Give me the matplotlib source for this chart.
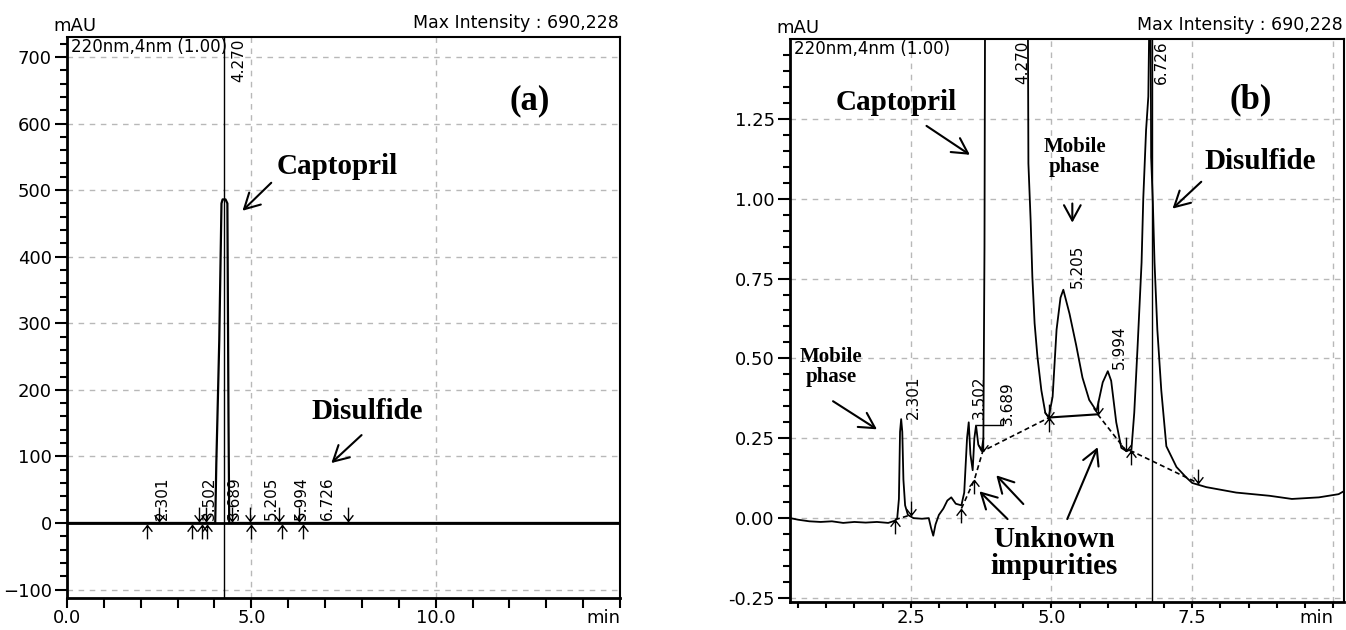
import matplotlib
matplotlib.use("Agg")
import matplotlib.pyplot as plt
from matplotlib.path import Path

plt.rcParams['font.family'] = ['DejaVu Sans']

# ---- panel (a): full scale chromatogram ----
time_a = [0, 4.02, 4.05, 4.08, 4.13, 4.19, 4.22, 4.30, 4.35, 4.38, 4.40, 15]
signal_a = [0, 0, 90, 158, 275, 480, 486, 486, 480, 158, 0, 0]
peak_times = ["2.301", "3.502", "3.689", "4.270", "5.205", "5.994", "6.726"]
label_x_a = [2.58, 3.86, 4.54, 4.67, 5.54, 6.35, 7.07]
starts_a = [2.18, 3.40, 3.67, 3.80, 5.00, 5.84, 6.39]
ends_a = [2.50, 3.59, 3.78, 4.48, 4.97, 5.76, 6.30, 7.61]
cursor_a = 4.27

# ---- panel (b): zoomed chromatogram ----
time_b = [0.36, 0.5, 0.7, 0.9, 1.1, 1.3, 1.5, 1.7, 1.9, 2.1, 2.22,
          2.26, 2.29, 2.31, 2.33, 2.35, 2.37, 2.40, 2.45, 2.55, 2.7, 2.82,
          2.86, 2.90, 2.94, 3.00, 3.08, 3.15, 3.22, 3.30, 3.40, 3.45, 3.50,
          3.53, 3.56, 3.60, 3.63, 3.66, 3.70, 3.76, 3.79, 3.81, 3.82,
          4.58, 4.59, 4.63, 4.66, 4.70, 4.75, 4.82, 4.89, 4.95, 5.02, 5.09,
          5.16, 5.21, 5.32, 5.44, 5.55, 5.67, 5.80, 5.91, 6.00, 6.06, 6.15,
          6.24, 6.33, 6.42, 6.47, 6.53, 6.60, 6.63, 6.68, 6.72, 6.74, 6.76,
          6.77, 6.80, 6.83, 6.88, 6.95, 7.04, 7.22, 7.39, 7.50, 7.75, 8.28,
          8.87, 9.27, 9.75, 10.1, 10.2]
signal_b = [0.0, -0.005, -0.01, -0.012, -0.01, -0.015, -0.012, -0.014, -0.012, -0.015, -0.008,
            0.0, 0.06, 0.27, 0.31, 0.27, 0.12, 0.04, 0.01, 0.0, -0.002, 0.0,
            -0.03, -0.055, -0.02, 0.01, 0.03, 0.055, 0.065, 0.045, 0.04, 0.08, 0.25,
            0.30, 0.20, 0.15, 0.25, 0.29, 0.23, 0.21, 0.25, 0.85, 1.6,
            1.6, 1.11, 0.93, 0.756, 0.61, 0.506, 0.40, 0.33, 0.315, 0.38, 0.59,
            0.69, 0.715, 0.64, 0.54, 0.44, 0.37, 0.335, 0.425, 0.46, 0.43, 0.30,
            0.22, 0.21, 0.215, 0.33, 0.54, 0.80, 1.0, 1.215, 1.32, 1.6, 1.6,
            1.13, 0.99, 0.80, 0.59, 0.40, 0.225, 0.16, 0.128, 0.11, 0.097, 0.08,
            0.07, 0.06, 0.065, 0.075, 0.085]
label_x_b = [2.54, 3.72, 4.22, 4.49, 5.46, 6.21, 6.95]
label_y_b = [0.31, 0.31, 0.29, None, 0.72, 0.466, None]
starts_b_t = [2.22, 3.40, 3.63, 4.96, 6.42]
starts_b_v = [-0.005, 0.03, 0.12, 0.315, 0.21]
ends_b_t = [2.50, 3.78, 4.96, 5.82, 6.33, 7.60]
ends_b_v = [0.01, 0.21, 0.315, 0.325, 0.21, 0.11]
base_b_t = [[2.22, 2.50], [3.40, 3.63, 3.78, 4.96], [5.82, 6.33, 6.42, 7.60]]
base_b_v = [[-0.005, 0.01], [0.03, 0.12, 0.21, 0.315], [0.325, 0.21, 0.21, 0.11]]
solid_b_t = [4.96, 5.82]
solid_b_v = [0.315, 0.325]
cursor_b = 6.79

up = Path([(0, 0), (0, -1), (-0.35, -0.45), (0, 0), (0.35, -0.45)],
          [Path.MOVETO, Path.LINETO, Path.MOVETO, Path.LINETO, Path.LINETO])
down = Path([(0, 0), (0, 1), (-0.35, 0.45), (0, 0), (0.35, 0.45)],
            [Path.MOVETO, Path.LINETO, Path.MOVETO, Path.LINETO, Path.LINETO])

serif = dict(family='Liberation Serif', weight='bold', color='black')
arrow = dict(arrowstyle='->,head_length=0.55,head_width=0.3', lw=1.5,
             color='black', mutation_scale=20, shrinkA=0, shrinkB=0)

fig = plt.figure(figsize=(13.46, 6.30), dpi=100)
ax1 = fig.add_axes([0.0498, 0.0508, 0.4108, 0.8905])
ax2 = fig.add_axes([0.5869, 0.0445, 0.4116, 0.8936])


def style(ax, xlen):
    for s in ax.spines.values():
        s.set_linewidth(1.5)
    ax.spines['left'].set_linewidth(2)
    ax.spines['bottom'].set_linewidth(2)
    ax.grid(True, which='major', color='#b8b8b8', ls=(0, (4, 4)), lw=1)
    ax.tick_params(which='major', direction='out', length=9, width=1.5,
                   labelsize=13, colors='black', pad=2)
    ax.tick_params(which='minor', direction='out', length=5, width=1.5)
    ax.tick_params(axis='x', which='both', length=xlen, pad=1)
    ax.set_axisbelow(True)
    ax.get_xticklabels()[-1].set_ha('right')
    ax.text(-0.025, 1.004, 'mAU', transform=ax.transAxes, fontsize=13,
            ha='left', va='bottom')
    ax.text(0.997, 1.008, 'Max Intensity : 690,228', transform=ax.transAxes,
            fontsize=12.5, ha='right', va='bottom')
    ax.text(0.008, 0.998, '220nm,4nm (1.00)', transform=ax.transAxes,
            fontsize=12, ha='left', va='top')


# panel (a)
ax1.plot(time_a, signal_a, color='black', lw=1.6)
ax1.axhline(0, color='black', lw=2)
ax1.axvline(cursor_a, color='black', lw=1)
ax1.plot(starts_a, [-3] * len(starts_a), ls='none', marker=up, ms=20,
         mec='black', mfc='none', mew=1)
ax1.plot(ends_a, [3] * len(ends_a), ls='none', marker=down, ms=20,
         mec='black', mfc='none', mew=1)
for lab, x in zip(peak_times, label_x_a):
    if lab == "4.270":
        ax1.text(x, 728, lab, rotation=90, fontsize=11, ha='center', va='top')
    else:
        ax1.text(x, 4, lab, rotation=90, fontsize=11, ha='center', va='bottom')
ax1.set_xlim(0, 15)
ax1.set_ylim(-112.7, 730)
ax1.set_xticks([0, 5, 10, 15])
ax1.set_xticklabels(['0.0', '5.0', '10.0', 'min'])
ax1.set_xticks(range(0, 16), minor=True)
ax1.set_yticks(range(-100, 701, 100))
ax1.set_yticks(range(-100, 721, 20), minor=True)
style(ax1, 7)
ax1.text(5.68, 535, 'Captopril', fontsize=21, ha='left', va='center', **serif)
ax1.annotate('', xy=(4.76, 469), xytext=(5.54, 511), arrowprops=arrow)
ax1.text(8.13, 167, 'Disulfide', fontsize=21, ha='center', va='center', **serif)
ax1.annotate('', xy=(7.17, 90), xytext=(7.99, 132), arrowprops=arrow)
ax1.text(12.55, 634, '(a)', fontsize=25, ha='center', va='center', **serif)

# panel (b)
ax2.plot(time_b, signal_b, color='black', lw=1.3)
ax2.axvline(cursor_b, color='black', lw=1)
for t, v in zip(base_b_t, base_b_v):
    ax2.plot(t, v, color='black', lw=1.2, ls=(0, (3, 2)))
ax2.plot(solid_b_t, solid_b_v, color='black', lw=1.5)
ax2.plot([3.67, 4.13, 4.13], [0.29, 0.29, 0.315], color='black', lw=1)
ax2.plot(starts_b_t, starts_b_v, ls='none', marker=up, ms=20,
         mec='black', mfc='none', mew=1)
ax2.plot(ends_b_t, ends_b_v, ls='none', marker=down, ms=20,
         mec='black', mfc='none', mew=1)
for lab, x, y in zip(peak_times, label_x_b, label_y_b):
    if y is None:
        ax2.text(x, 1.495, lab, rotation=90, fontsize=11, ha='center', va='top')
    else:
        ax2.text(x, y, lab, rotation=90, fontsize=11, ha='center', va='bottom')
ax2.set_xlim(0.355, 10.195)
ax2.set_ylim(-0.2625, 1.5)
ax2.set_xticks([2.5, 5.0, 7.5, 10.0])
ax2.set_xticklabels(['2.5', '5.0', '7.5', 'min'])
ax2.set_xticks([0.5 * i for i in range(1, 21)], minor=True)
ax2.set_yticks([-0.25, 0.0, 0.25, 0.5, 0.75, 1.0, 1.25])
ax2.set_yticklabels(['-0.25', '0.00', '0.25', '0.50', '0.75', '1.00', '1.25'])
ax2.set_yticks([-0.25 + 0.05 * i for i in range(35)], minor=True)
style(ax2, 4)
ax2.text(2.25, 1.30, 'Captopril', fontsize=21, ha='center', va='center', **serif)
ax2.annotate('', xy=(3.55, 1.1375), xytext=(2.78, 1.228), arrowprops=arrow)
ax2.text(5.41, 1.13, 'Mobile\nphase', fontsize=15, ha='center', va='center',
         linespacing=1.0, **serif)
ax2.annotate('', xy=(5.37, 0.925), xytext=(5.37, 0.985), arrowprops=arrow)
ax2.text(8.71, 1.116, 'Disulfide', fontsize=21, ha='center', va='center', **serif)
ax2.annotate('', xy=(7.15, 0.969), xytext=(7.66, 1.053), arrowprops=arrow)
ax2.text(8.53, 1.31, '(b)', fontsize=25, ha='center', va='center', **serif)
ax2.text(1.08, 0.473, 'Mobile\nphase', fontsize=15, ha='center', va='center',
         linespacing=1.0, **serif)
ax2.annotate('', xy=(1.90, 0.278), xytext=(1.12, 0.366), arrowprops=arrow)
ax2.text(5.05, -0.11, 'Unknown\nimpurities', fontsize=21, ha='center',
         va='center', linespacing=1.0, **serif)
ax2.annotate('', xy=(3.72, 0.084), xytext=(4.22, -0.003), arrowprops=arrow)
ax2.annotate('', xy=(4.02, 0.134), xytext=(4.50, 0.044), arrowprops=arrow)
ax2.annotate('', xy=(5.82, 0.222), xytext=(5.28, -0.003), arrowprops=arrow)

fig.savefig('out.png', dpi=100)
